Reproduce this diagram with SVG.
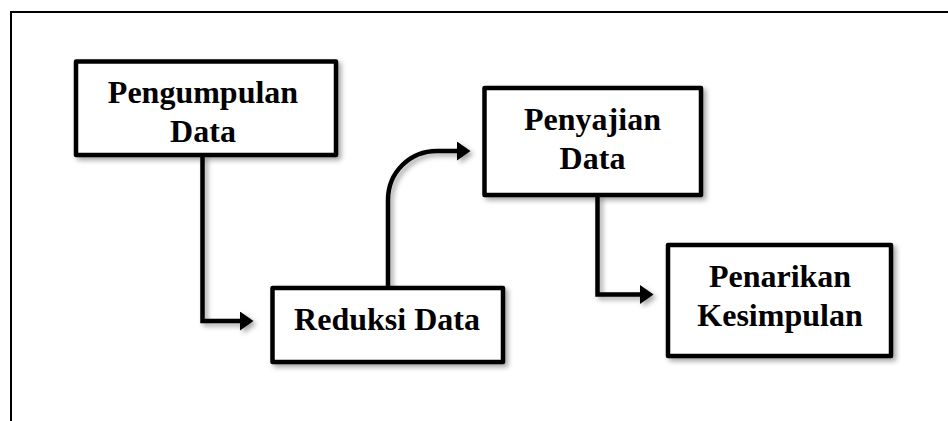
<svg xmlns="http://www.w3.org/2000/svg" width="948" height="421" viewBox="0 0 948 421">
<defs>
<style>
.box{fill:#fff;stroke:#000;stroke-width:4.5;stroke-linejoin:round}
.lbl{font-family:'Liberation Serif','Times New Roman',serif;font-weight:bold;font-size:32px;fill:#000;text-anchor:middle}
.con{fill:none;stroke:#000;stroke-width:4.5;stroke-linejoin:miter}
.frame{fill:none;stroke:#000;stroke-width:2}
</style>
<filter id="sh" x="-20%" y="-20%" width="150%" height="150%">
<feDropShadow dx="3" dy="3" stdDeviation="2.5" flood-color="#000" flood-opacity="0.35"/>
</filter>
<marker id="ah" markerUnits="userSpaceOnUse" markerWidth="14" markerHeight="20" refX="0" refY="9.5" orient="auto">
<path d="M0,0 L13.5,9.5 L0,19 z" fill="#000"/>
</marker>
</defs>
<rect width="948" height="421" fill="#fff"/>
<path class="frame" d="M11,421 V12 H948"/>
<g id="connectors" filter="url(#sh)">
<path class="con" d="M202.5,155 V321 H240" marker-end="url(#ah)"/>
<path class="con" d="M388,288 V200 C388,172 410,151 437,151 H457" marker-end="url(#ah)"/>
<path class="con" d="M597.5,195 V294.5 H640" marker-end="url(#ah)"/>
</g>
<g id="pengumpulan">
<rect class="box" x="76" y="61.5" width="260" height="93.5" filter="url(#sh)"/>
<text class="lbl" x="203" y="103">Pengumpulan</text>
<text class="lbl" x="203" y="142">Data</text>
</g>
<g id="reduksi">
<rect class="box" x="272.5" y="288" width="230.5" height="74" filter="url(#sh)"/>
<text class="lbl" x="387" y="330">Reduksi Data</text>
</g>
<g id="penyajian">
<rect class="box" x="484.5" y="88" width="216.5" height="107" filter="url(#sh)"/>
<text class="lbl" x="592.5" y="130">Penyajian</text>
<text class="lbl" x="592.5" y="169">Data</text>
</g>
<g id="penarikan">
<rect class="box" x="668" y="245" width="223" height="111" filter="url(#sh)"/>
<text class="lbl" x="780" y="287">Penarikan</text>
<text class="lbl" x="780" y="326">Kesimpulan</text>
</g>
</svg>
